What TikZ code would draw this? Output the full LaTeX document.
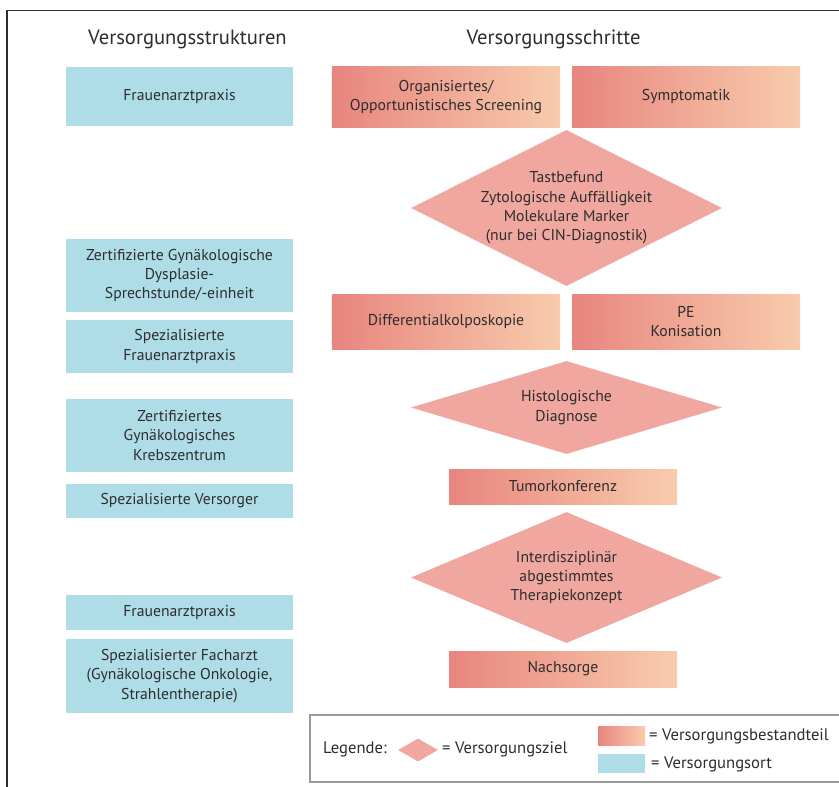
\documentclass[tikz,border=0pt]{standalone}
\usepackage{fontspec}
\setmainfont{PT Sans}
\usetikzlibrary{shapes.geometric}
\definecolor{ortblau}{RGB}{174,221,232}
\definecolor{teilL}{RGB}{232,133,127}
\definecolor{teilR}{RGB}{248,204,172}
\definecolor{zielrot}{RGB}{240,167,160}
\definecolor{schrift}{RGB}{45,45,45}
\definecolor{leggrau}{RGB}{155,155,155}

\begin{document}
\begin{tikzpicture}[x=0.03cm, y=-0.03cm,
    every node/.style={text=schrift, font=\fontsize{13.4}{16.6}\selectfont},
    titel/.style={font=\fontsize{17.6}{20}\selectfont},
    legtext/.style={anchor=west, inner sep=0pt, font=\fontsize{14.2}{17}\selectfont},
    ort/.style={fill=ortblau, minimum width=6.81cm, align=center, inner sep=0pt},
    teil/.style={left color=teilL, right color=teilR, minimum width=6.84cm, align=center, inner sep=0pt},
    ziel/.style={diamond, fill=zielrot, minimum width=9.33cm, inner sep=0pt},
    rahmen/.style={draw=schrift, line width=1pt},
    legrahmen/.style={draw=leggrau, line width=1.1pt}]

    \useasboundingbox (0,0) rectangle (839,787);
    \draw[rahmen] (839,10.5) -- (7,10.5) -- (7,787);

    \node[titel] (strukturen) at (187.5,39) {Versorgungsstrukturen};
    \node[titel] (schritte) at (553.5,39) {Versorgungsschritte};

    % Versorgungsorte
    \node[ort, minimum height=1.77cm] (praxis) at (179.5,96.5) {Frauenarztpraxis};
    \node[ort, minimum height=2.19cm] (dysplasie) at (179.5,275.5) {Zertifizierte Gynäkologische\\Dysplasie-\\Sprechstunde/-einheit};
    \node[ort, minimum height=1.59cm] (spezpraxis) at (179.5,346.5) {Spezialisierte\\Frauenarztpraxis};
    \node[ort, minimum height=2.19cm] (krebszentrum) at (179.5,435.5) {Zertifiziertes\\Gynäkologisches\\Krebszentrum};
    \node[ort, minimum height=1.02cm] (versorger) at (179.5,501) {Spezialisierte Versorger};
    \node[ort, minimum height=1.05cm] (praxisB) at (179.5,612.5) {Frauenarztpraxis};
    \node[ort, minimum height=2.22cm] (facharzt) at (179.5,676) {Spezialisierter Facharzt\\(Gynäkologische Onkologie,\\Strahlentherapie)};

    % Versorgungsschritte
    \node[teil, minimum height=1.8cm] (screening) at (446,97) {Organisiertes/\\Opportunistisches Screening};
    \node[teil, minimum height=1.8cm] (symptomatik) at (686,97) {Symptomatik};

    \node[ziel, minimum height=4.68cm] (befund) at (566.5,208) {};
    \node[align=center] (befundT) at (befund) {Tastbefund\\Zytologische Auffälligkeit\\Molekulare Marker\\(nur bei CIN-Diagnostik)};

    \node[teil, minimum height=1.65cm] (kolposkopie) at (446,321.5) {Differentialkolposkopie};
    \node[teil, minimum height=1.65cm] (konisation) at (686,321.5) {PE\\Konisation};

    \node[ziel, minimum height=2.79cm] (histo) at (566.5,407.5) {};
    \node[align=center] (histoT) at (histo) {Histologische\\Diagnose};

    \node[teil, minimum height=1.05cm] (tumorkonf) at (563,486.5) {Tumorkonferenz};

    \node[ziel, minimum height=3.93cm] (therapie) at (566.5,577.5) {};
    \node[align=center] (therapieT) at (therapie) {Interdisziplinär\\abgestimmtes\\Therapiekonzept};

    \node[teil, minimum height=1.08cm] (nachsorge) at (563,669) {Nachsorge};

    % Legende
    \draw[legrahmen] (839,715) -- (310,715) -- (310,782) -- (839,782);
    \node[legtext] (legende) at (323,749) {Legende:};
    \node[diamond, fill=zielrot, inner sep=0pt, minimum width=1.2cm, minimum height=0.69cm] (legziel) at (418,750) {};
    \node[legtext] (legzielT) at (442,749) {= Versorgungsziel};
    \node[left color=teilL, right color=teilR, inner sep=0pt, minimum width=1.41cm, minimum height=0.57cm] (legteil) at (621.5,735.5) {};
    \node[legtext] (legteilT) at (649,736) {= Versorgungsbestandteil};
    \node[fill=ortblau, inner sep=0pt, minimum width=1.41cm, minimum height=0.57cm] (legort) at (621.5,763.5) {};
    \node[legtext] (legortT) at (651,764) {= Versorgungsort};

\end{tikzpicture}
\end{document}
